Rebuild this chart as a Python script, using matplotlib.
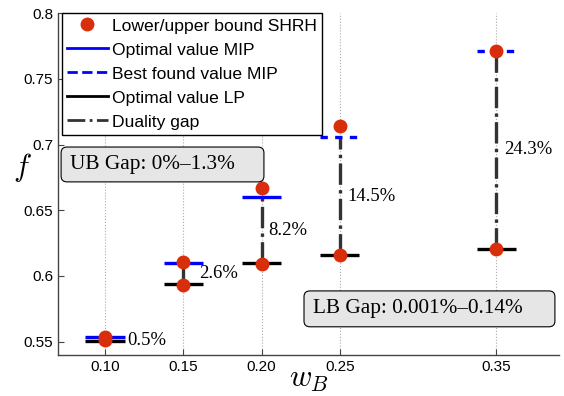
import matplotlib
matplotlib.use("Agg")
import matplotlib.pyplot as plt
from matplotlib.lines import Line2D
from matplotlib.patches import FancyBboxPatch
import numpy as np

plt.rcParams["mathtext.fontset"] = "cm"

# values
w_B = [0.10, 0.15, 0.20, 0.25, 0.35]
mip_value = [0.5533, 0.6095, 0.6597, 0.7055, 0.7714]
mip_optimal = [True, True, True, False, False]   # False -> only best found value
lp_value = [0.5508, 0.5941, 0.6095, 0.6156, 0.6204]
shrh_upper = [0.5537, 0.6108, 0.6670, 0.7144, 0.7714]
shrh_lower = [0.5510, 0.5933, 0.6090, 0.6156, 0.6204]
gap_labels = ["0.5%", "2.6%", "8.2%", "14.5%", "24.3%"]

red = "#d92e0c"
half = 0.0125

fig = plt.figure(figsize=(5.64, 3.96), dpi=100)
ax = fig.add_axes([0.103, 0.104, 0.888, 0.863])

for x in w_B:
    ax.axvline(x, color="#aaaaaa", ls=":", lw=0.8, zorder=0)

# duality gap
for x, lo, hi in zip(w_B, lp_value, mip_value):
    ax.plot([x, x], [lo, hi], color="#333333", ls="-.", lw=2.4, zorder=2)

# LP and MIP levels
w = np.array(w_B)
ax.hlines(lp_value, w - half, w + half, color="black", lw=2.4, zorder=3)
for x, v, opt in zip(w_B, mip_value, mip_optimal):
    ax.hlines(v, x - half, x + half, color="blue", lw=2.4,
              ls="-" if opt else (0, (2.2, 2.2)), zorder=3)

ax.plot(w_B, shrh_upper, "o", color=red, ms=9, zorder=4)
ax.plot(w_B, shrh_lower, "o", color=red, ms=9, zorder=4)

# gap labels
dx = [0.014, 0.010, 0.004, 0.005, 0.005]
for x, lo, hi, lab, d in zip(w_B, lp_value, mip_value, gap_labels, dx):
    ax.text(x + d, (lo + hi) / 2 - (0.0015 if lab == "0.5%" else 0), lab,
            family="Liberation Serif", fontsize=13.4, va="center", ha="left")

# legend
handles = [
    Line2D([], [], ls="none", marker="o", color=red, ms=9),
    Line2D([], [], color="blue", lw=2),
    Line2D([], [], color="blue", lw=2, ls="--"),
    Line2D([], [], color="black", lw=2),
    Line2D([], [], color="#333333", lw=2, ls="-."),
]
labels = ["Lower/upper bound SHRH", "Optimal value MIP", "Best found value MIP",
          "Optimal value LP", "Duality gap"]
leg = ax.legend(handles, labels, loc="upper left", bbox_to_anchor=(0.008, 1.0),
                prop={"family": "Liberation Sans", "size": 12.6}, fancybox=False,
                edgecolor="black", framealpha=1, handlelength=2.3,
                handletextpad=0.25, borderpad=0.3, labelspacing=0.5, borderaxespad=0)
leg.get_frame().set_linewidth(1.0)

# gap boxes (fixed size, text left-aligned inside)
for (x0, y0, x1, y1), tx, txt in [
        ((0.006, 0.506, 0.411, 0.608), 0.024, "UB Gap: 0%\u20131.3%"),
        ((0.491, 0.082, 0.992, 0.187), 0.509, "LB Gap: 0.001%\u20130.14%")]:
    ax.add_patch(FancyBboxPatch((x0, y0), x1 - x0, y1 - y0,
                                boxstyle="round,pad=0,rounding_size=0.012",
                                transform=ax.transAxes, fc="#e6e6e6", ec="black",
                                lw=0.8, zorder=5, mutation_aspect=1.4))
    ax.text(tx, (y0 + y1) / 2, txt, transform=ax.transAxes, family="Liberation Serif",
            fontsize=15.3, va="center", ha="left", zorder=6)

ax.set_xlim(0.07, 0.39)
ax.set_ylim(0.54, 0.80)
ax.set_xticks(w_B)
ax.set_xticklabels(["%.2f" % v for v in w_B])
ax.set_yticks([0.55, 0.6, 0.65, 0.7, 0.75, 0.8])
ax.set_yticklabels(["0.55", "0.6", "0.65", "0.7", "0.75", "0.8"])
ax.tick_params(direction="in", labelsize=11, length=4, color="#444444")
for lab in ax.get_xticklabels() + ax.get_yticklabels():
    lab.set_family("Liberation Sans")
ax.spines["top"].set_visible(False)
ax.spines["right"].set_visible(False)
for s in ("left", "bottom"):
    ax.spines[s].set_color("#444444")
    ax.spines[s].set_linewidth(1.0)

ax.set_xlabel("$w_B$", fontsize=22, labelpad=-6)
ax.set_ylabel("$f$", fontsize=22, rotation=0, labelpad=1)

fig.savefig("out.png", dpi=100)
